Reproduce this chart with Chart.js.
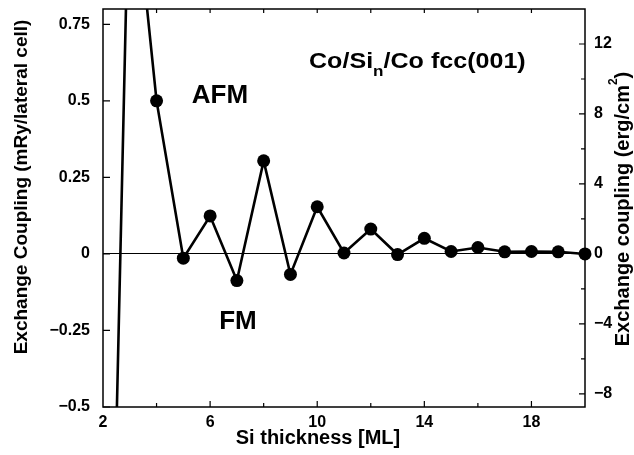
<!DOCTYPE html>
<html>
<head>
<meta charset="utf-8">
<script src="https://cdn.jsdelivr.net/npm/chart.js@4.4.1/dist/chart.umd.min.js"></script>
<style>
  html, body { margin: 0; padding: 0; background: #fff; }
  #wrap { width: 634px; height: 455px; }
</style>
</head>
<body>
<div id="wrap"><canvas id="grafico" width="634" height="455"></canvas></div>
<script>
// --- datos ---
const siThickness = [2, 3, 4, 5, 6, 7, 8, 9, 10, 11, 12, 13, 14, 15, 16, 17, 18, 19, 20];
const couplingMRy = [-2.5, 1.35, 0.5, -0.014, 0.124, -0.087, 0.304, -0.067, 0.154, 0.003,
                     0.081, -0.002, 0.051, 0.008, 0.021, 0.007, 0.008, 0.007, 0.0];

const xRange = [2, 20];
const xTickLabels = [2, 6, 10, 14, 18];
const xMinorTicks = [4, 8, 12, 16];

const leftRange = [-0.5, 0.8];
const leftTicks = [-0.5, -0.25, 0, 0.25, 0.5, 0.75];

// factor mRy/celda -> erg/cm^2 (eje derecho)
const mRyToErg = 17.5;
const rightTicks = [-8, -4, 0, 4, 8, 12];
const rightMinorTicks = [-6, -2, 2, 6, 10];

const FONT = "'Liberation Sans', Arial, Helvetica, sans-serif";

function formatMinus(v) {
    return v < 0 ? '\u2212' + Math.abs(v) : String(v);
}

// sin relleno extra de Chart.js alrededor del area del grafico
function sinPadding(s) {
    s.paddingTop = 0; s.paddingBottom = 0;
    s.paddingLeft = 0; s.paddingRight = 0;
}

// Marcas de eje hacia adentro, marco y textos
const decoraciones = {
    id: 'decoraciones',
    afterDraw(chart) {
        const { ctx, chartArea: a, scales } = chart;
        const x = scales.x, y = scales.y, y2 = scales.y2;
        ctx.save();

        // marco
        ctx.strokeStyle = '#000';
        ctx.lineWidth = 1.5;
        ctx.strokeRect(a.left, a.top, a.right - a.left, a.bottom - a.top);

        // ticks
        ctx.lineWidth = 1.2;
        ctx.beginPath();
        xTickLabels.concat(xMinorTicks).forEach(v => {
            if (v <= xRange[0]) return;
            const px = x.getPixelForValue(v);
            const len = xTickLabels.includes(v) ? 6 : 4;
            ctx.moveTo(px, a.bottom); ctx.lineTo(px, a.bottom - len);
            ctx.moveTo(px, a.top); ctx.lineTo(px, a.top + 4);
        });
        leftTicks.forEach(v => {
            const py = y.getPixelForValue(v);
            ctx.moveTo(a.left, py); ctx.lineTo(a.left + 7, py);
        });
        rightTicks.forEach(v => {
            const py = y2.getPixelForValue(v);
            ctx.moveTo(a.right, py); ctx.lineTo(a.right - 6, py);
        });
        rightMinorTicks.forEach(v => {
            const py = y2.getPixelForValue(v);
            ctx.moveTo(a.right, py); ctx.lineTo(a.right - 4, py);
        });
        ctx.stroke();

        ctx.fillStyle = '#000';
        ctx.textBaseline = 'middle';

        // titulo eje x
        ctx.font = 'bold 20px ' + FONT;
        ctx.textAlign = 'center';
        ctx.fillText('Si thickness [ML]', 318, 438);

        // titulo eje izquierdo
        ctx.save();
        ctx.translate(22, 187);
        ctx.rotate(-Math.PI / 2);
        ctx.font = 'bold 19px ' + FONT;
        ctx.fillText('Exchange Coupling (mRy/lateral cell)', 0, 0);
        ctx.restore();

        // titulo eje derecho con superindice
        ctx.save();
        ctx.translate(623, 209);
        ctx.rotate(-Math.PI / 2);
        ctx.font = 'bold 20px ' + FONT;
        const t1 = 'Exchange coupling (erg/cm', t3 = ')';
        const w1 = ctx.measureText(t1).width, w3 = ctx.measureText(t3).width;
        ctx.font = 'bold 12px ' + FONT;
        const w2 = ctx.measureText('2').width;
        let sx = -(w1 + w2 + w3) / 2;
        ctx.textAlign = 'left';
        ctx.font = 'bold 20px ' + FONT;
        ctx.fillText(t1, sx, 0);
        ctx.font = 'bold 12px ' + FONT;
        ctx.fillText('2', sx + w1, -9);
        ctx.font = 'bold 20px ' + FONT;
        ctx.fillText(t3, sx + w1 + w2, 0);
        ctx.restore();

        // AFM / FM
        ctx.textAlign = 'center';
        ctx.font = 'bold 26px ' + FONT;
        ctx.fillText('AFM', 220, 96);
        ctx.fillText('FM', 238, 322);

        // rotulo del sistema (algo estirado en horizontal como en el original)
        ctx.save();
        ctx.translate(309, 62);
        ctx.scale(1.14, 1);
        ctx.textAlign = 'left';
        ctx.font = 'bold 22px ' + FONT;
        let tx = 0;
        ctx.fillText('Co/Si', tx, 0);
        tx += ctx.measureText('Co/Si').width;
        ctx.font = 'bold 15px ' + FONT;
        ctx.fillText('n', tx, 10);
        tx += ctx.measureText('n').width;
        ctx.font = 'bold 22px ' + FONT;
        ctx.fillText('/Co fcc(001)', tx, 0);
        ctx.restore();

        ctx.restore();
    }
};

document.addEventListener("DOMContentLoaded", function () {
    const ctx = document.getElementById('grafico').getContext('2d');
    Chart.defaults.font.family = FONT;
    Chart.defaults.font.weight = 'bold';
    Chart.defaults.color = '#000';

    new Chart(ctx, {
        type: 'line',
        data: {
            datasets: [{
                data: siThickness.map((v, i) => ({ x: v, y: couplingMRy[i] })),
                borderColor: '#000',
                borderWidth: 2.6,
                tension: 0,
                pointRadius: 6.5,
                pointBackgroundColor: '#000',
                pointBorderWidth: 0,
                clip: { left: 0, top: 0, right: 10, bottom: 0 },
                yAxisID: 'y'
            }]
        },
        options: {
            responsive: false,
            animation: false,
            layout: { padding: { top: 9, left: 0, right: 0, bottom: 0 } },
            plugins: { legend: { display: false }, tooltip: { enabled: false } },
            scales: {
                x: {
                    type: 'linear',
                    min: xRange[0], max: xRange[1],
                    afterBuildTicks: s => { s.ticks = xTickLabels.map(v => ({ value: v })); },
                    afterFit: s => { s.height = 48; sinPadding(s); },
                    grid: { display: false, drawTicks: false },
                    border: { display: false },
                    ticks: { font: { size: 16, weight: 'bold' }, padding: 6, maxRotation: 0 }
                },
                y: {
                    position: 'left',
                    min: leftRange[0], max: leftRange[1],
                    afterBuildTicks: s => { s.ticks = leftTicks.map(v => ({ value: v })); },
                    afterFit: s => { s.width = 103; sinPadding(s); },
                    grid: {
                        drawTicks: false,
                        lineWidth: 1,
                        color: c => (c.tick && c.tick.value === 0 ? '#000' : 'rgba(0,0,0,0)')
                    },
                    border: { display: false },
                    ticks: { font: { size: 16, weight: 'bold' }, padding: 13, callback: formatMinus }
                },
                y2: {
                    position: 'right',
                    min: leftRange[0] * mRyToErg, max: leftRange[1] * mRyToErg,
                    afterBuildTicks: s => { s.ticks = rightTicks.map(v => ({ value: v })); },
                    afterFit: s => { s.width = 49; sinPadding(s); },
                    grid: { display: false, drawTicks: false },
                    border: { display: false },
                    ticks: { font: { size: 16, weight: 'bold' }, padding: 9, callback: formatMinus }
                }
            }
        },
        plugins: [decoraciones]
    });
});
</script>
</body>
</html>
